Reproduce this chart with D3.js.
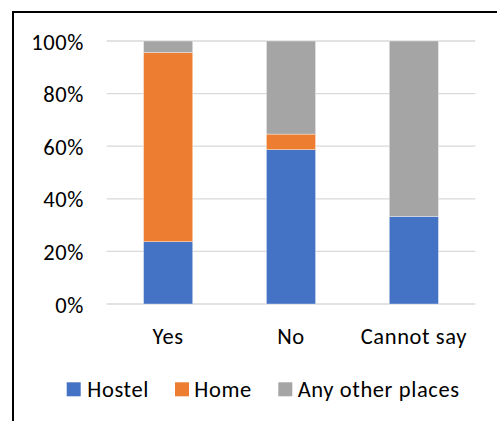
<!DOCTYPE html>
<html>
<head>
<meta charset="utf-8">
<script src="https://cdn.jsdelivr.net/npm/d3@7"></script>
<style>
  html, body { margin: 0; padding: 0; background: #fff; }
  svg { display: block; }
  text { font-family: Carlito, Lato, "Open Sans", sans-serif; fill: #000; letter-spacing: 0.6px; }
</style>
</head>
<body>
<div id="chart"></div>
<script>
// Where students stay, by answer (share of respondents, %)
const categories = ["Yes", "No", "Cannot say"];
const seriesNames = ["Hostel", "Home", "Any other places"];
const hostel = [23.7, 58.7, 33.3];
const home = [71.9, 5.9, 0];
const otherPlaces = [4.4, 35.4, 66.7];
const yTicks = [0, 20, 40, 60, 80, 100];
const colors = ["#4472C4", "#ED7D31", "#A5A5A5"];

const W = 497, H = 421;
const FONT = "22.5px";
const svg = d3.select("#chart").append("svg")
  .attr("width", W).attr("height", H);

// Outer chart frame (runs past the right and bottom edges)
svg.append("rect")
  .attr("x", 13).attr("y", 12)
  .attr("width", W + 20).attr("height", H + 20)
  .attr("fill", "none").attr("stroke", "#000").attr("stroke-width", 2);

const plot = { left: 106.7, right: 475.3, top: 41, bottom: 304 };

const x = d3.scaleBand()
  .domain(categories)
  .range([plot.left, plot.right])
  .paddingInner(0.6).paddingOuter(0.3);

const y = d3.scaleLinear().domain([0, 100]).range([plot.bottom, plot.top]);

// Gridlines
svg.append("g").selectAll("line").data(yTicks).join("line")
  .attr("x1", plot.left).attr("x2", plot.right)
  .attr("y1", d => y(d)).attr("y2", d => y(d))
  .attr("stroke", "#d9d9d9").attr("stroke-width", 1.3);

// Y axis labels
const yAxis = d3.axisLeft(y).tickValues(yTicks).tickFormat(d => d + "%").tickSize(0).tickPadding(0);
const gy = svg.append("g").attr("transform", `translate(84,0)`).call(yAxis);
gy.select(".domain").remove();
gy.selectAll("text").style("font-size", FONT).attr("dy", "0.36em");

// Stacked bars
const rows = categories.map((c, i) => ({
  cat: c, "Hostel": hostel[i], "Home": home[i], "Any other places": otherPlaces[i]
}));
const stack = d3.stack().keys(seriesNames)(rows);

svg.append("g").selectAll("g").data(stack).join("g")
  .attr("fill", (d, i) => colors[i])
  .selectAll("rect").data(d => d.filter(s => s[1] - s[0] > 0)).join("rect")
  .attr("x", d => x(d.data.cat))
  .attr("width", x.bandwidth())
  .attr("y", d => y(d[1]))
  .attr("height", d => y(d[0]) - y(d[1]))
  .attr("stroke", "#ffffff").attr("stroke-opacity", 0.5).attr("stroke-width", 0.7);

// X axis labels
const xAxis = d3.axisBottom(x).tickSize(0).tickPadding(0);
const gx = svg.append("g").attr("transform", `translate(0,343.5)`).call(xAxis);
gx.select(".domain").remove();
gx.selectAll("text").style("font-size", FONT).attr("dy", "0").attr("y", 0);

// Legend
const legendItems = [
  { name: "Hostel", sx: 66.7, tx: 87.3 },
  { name: "Home", sx: 175, tx: 194.3 },
  { name: "Any other places", sx: 278.3, tx: 297.7 }
];
const lg = svg.append("g");
lg.selectAll("rect").data(legendItems).join("rect")
  .attr("x", d => d.sx).attr("y", 382.3)
  .attr("width", 14).attr("height", 14)
  .attr("fill", (d, i) => colors[i]);
lg.selectAll("text").data(legendItems).join("text")
  .attr("x", d => d.tx).attr("y", 396.8)
  .style("font-size", FONT)
  .text(d => d.name);
</script>
</body>
</html>
